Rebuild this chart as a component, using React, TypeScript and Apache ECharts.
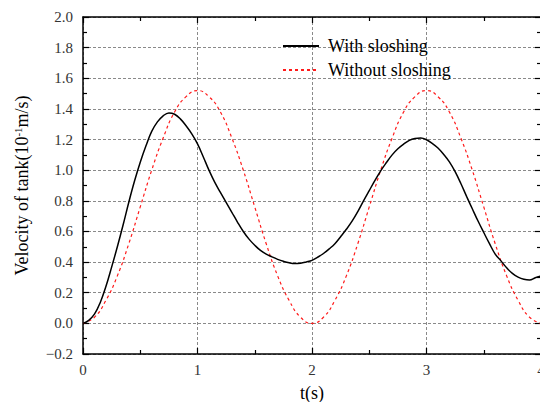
import React, { useEffect, useRef } from "react";
import * as echarts from "echarts";

// Time samples (s) for the run with sloshing
const tWith = [0, 0.05, 0.1, 0.15, 0.2, 0.25, 0.3, 0.35, 0.4, 0.45, 0.5, 0.55, 0.6, 0.65, 0.7, 0.75, 0.8, 0.85, 0.9, 0.95, 1.0, 1.05, 1.1, 1.15, 1.2, 1.25, 1.3, 1.35, 1.4, 1.45, 1.5, 1.55, 1.6, 1.65, 1.7, 1.75, 1.8, 1.85, 1.9, 1.95, 2.0, 2.05, 2.1, 2.15, 2.2, 2.25, 2.3, 2.35, 2.4, 2.45, 2.5, 2.55, 2.6, 2.65, 2.7, 2.75, 2.8, 2.85, 2.9, 2.95, 3.0, 3.05, 3.1, 3.15, 3.2, 3.25, 3.3, 3.35, 3.4, 3.45, 3.5, 3.55, 3.6, 3.65, 3.7, 3.75, 3.8, 3.85, 3.9, 3.95, 4.0];
// Tank velocity (10^-1 m/s) with sloshing
const vWith = [0, 0.02, 0.06, 0.135, 0.24, 0.367, 0.5, 0.642, 0.791, 0.929, 1.052, 1.159, 1.253, 1.315, 1.355, 1.374, 1.365, 1.335, 1.29, 1.237, 1.172, 1.088, 1.0, 0.922, 0.855, 0.79, 0.725, 0.66, 0.6, 0.55, 0.51, 0.476, 0.452, 0.434, 0.418, 0.405, 0.395, 0.39, 0.393, 0.401, 0.411, 0.432, 0.456, 0.486, 0.52, 0.566, 0.614, 0.667, 0.73, 0.8, 0.867, 0.933, 0.996, 1.05, 1.1, 1.14, 1.17, 1.195, 1.207, 1.21, 1.199, 1.175, 1.145, 1.103, 1.054, 0.99, 0.913, 0.829, 0.748, 0.668, 0.593, 0.52, 0.452, 0.408, 0.363, 0.326, 0.302, 0.288, 0.283, 0.298, 0.31];

// Time samples (s) for the run without sloshing
const tWithout = [0, 0.1, 0.2, 0.3, 0.4, 0.5, 0.6, 0.7, 0.8, 0.9, 1.0, 1.1, 1.2, 1.3, 1.4, 1.5, 1.6, 1.7, 1.8, 1.9, 2.0, 2.1, 2.2, 2.3, 2.4, 2.5, 2.6, 2.7, 2.8, 2.9, 3.0, 3.1, 3.2, 3.3, 3.4, 3.5, 3.6, 3.7, 3.8, 3.9, 4.0];
// Tank velocity (10^-1 m/s) without sloshing
const vWithout = [0, 0.04, 0.15, 0.31, 0.52, 0.76, 1.0, 1.21, 1.38, 1.48, 1.52, 1.48, 1.38, 1.21, 1.0, 0.76, 0.52, 0.31, 0.15, 0.04, 0, 0.04, 0.15, 0.31, 0.52, 0.76, 1.0, 1.21, 1.38, 1.48, 1.52, 1.48, 1.38, 1.21, 1.0, 0.76, 0.52, 0.31, 0.15, 0.04, 0];

const seriesNames = ["With sloshing", "Without sloshing"];
const xMin = 0, xMax = 4, xStep = 1;
const yMin = -0.2, yMax = 2.0, yStep = 0.2;

const FONT = "'Liberation Serif', 'DejaVu Serif', serif";

export default function App() {
  const ref = useRef<HTMLDivElement>(null);
  useEffect(() => {
    if (!ref.current) return;
    const chart = echarts.init(ref.current, null, { renderer: "svg" });
    const gridLine = { show: true, lineStyle: { color: "#8a8a8a", type: [3, 2] as any, width: 1 } };
    const axisLine = { show: true, onZero: false, lineStyle: { color: "#000", width: 1.5 } };
    const axisTick = { show: true, inside: true, length: 6, lineStyle: { color: "#000", width: 1.2 } };
    const minorTick = { show: true, splitNumber: 2, length: 4, lineStyle: { color: "#000", width: 1.2 } };
    chart.setOption({
      animation: false,
      backgroundColor: "#fff",
      grid: { left: 83, top: 17, width: 458, height: 337, outerBoundsMode: "none", containLabel: false },
      legend: {
        data: seriesNames,
        orient: "vertical",
        left: 282,
        top: 37,
        itemWidth: 36,
        itemHeight: 16,
        itemGap: 6,
        padding: 0,
        itemStyle: { opacity: 0 },
        textStyle: { fontFamily: FONT, fontSize: 18, color: "#000", padding: [0, 0, 0, 4] },
      },
      xAxis: [
        {
          type: "value",
          min: xMin,
          max: xMax,
          interval: xStep,
          name: "t(s)",
          nameLocation: "middle",
          nameGap: 30,
          nameTextStyle: { fontFamily: FONT, fontSize: 18, color: "#000" },
          axisLine,
          axisTick,
          minorTick,
          splitLine: gridLine,
          axisLabel: { fontFamily: FONT, fontSize: 15, color: "#333", margin: 8, showMaxLabel: true },
        },
        {
          type: "value",
          position: "top",
          min: xMin,
          max: xMax,
          interval: xStep,
          axisLine,
          axisTick,
          minorTick,
          splitLine: { show: false },
          axisLabel: { show: false },
        },
      ],
      yAxis: [
        {
          type: "value",
          min: yMin,
          max: yMax,
          interval: yStep,
          name: "Velocity of tank(10{sup|-1}m/s)",
          nameLocation: "middle",
          nameGap: 52,
          nameTextStyle: {
            fontFamily: FONT,
            fontSize: 18,
            color: "#000",
            rich: { sup: { fontFamily: FONT, fontSize: 11, color: "#000", verticalAlign: "top", padding: [0, 0, 8, 0] } },
          },
          axisLine,
          axisTick,
          minorTick,
          splitLine: gridLine,
          axisLabel: {
            fontFamily: FONT,
            fontSize: 15,
            color: "#333",
            margin: 10,
            formatter: (v: number) => (v < 0 ? "\u2212" + Math.abs(v).toFixed(1) : v.toFixed(1)),
          },
        },
        {
          type: "value",
          position: "right",
          min: yMin,
          max: yMax,
          interval: yStep,
          axisLine,
          axisTick,
          minorTick,
          splitLine: { show: false },
          axisLabel: { show: false },
        },
      ],
      series: [
        {
          name: seriesNames[0],
          type: "line",
          data: tWith.map((t, i) => [t, vWith[i]]),
          smooth: 0.4,
          symbol: "none",
          lineStyle: { color: "#000", width: 1.5 },
          itemStyle: { color: "#000" },
          z: 3,
        },
        {
          name: seriesNames[1],
          type: "line",
          data: tWithout.map((t, i) => [t, vWithout[i]]),
          smooth: 0.5,
          symbol: "none",
          lineStyle: { color: "#ff1a1a", width: 1.2, type: [3, 3] as any },
          itemStyle: { color: "#ff1a1a" },
          z: 2,
        },
      ],
    });
    return () => chart.dispose();
  }, []);
  return <div ref={ref} style={{ position: "fixed", left: 0, top: 0, width: 540, height: 402 }} />;
}
